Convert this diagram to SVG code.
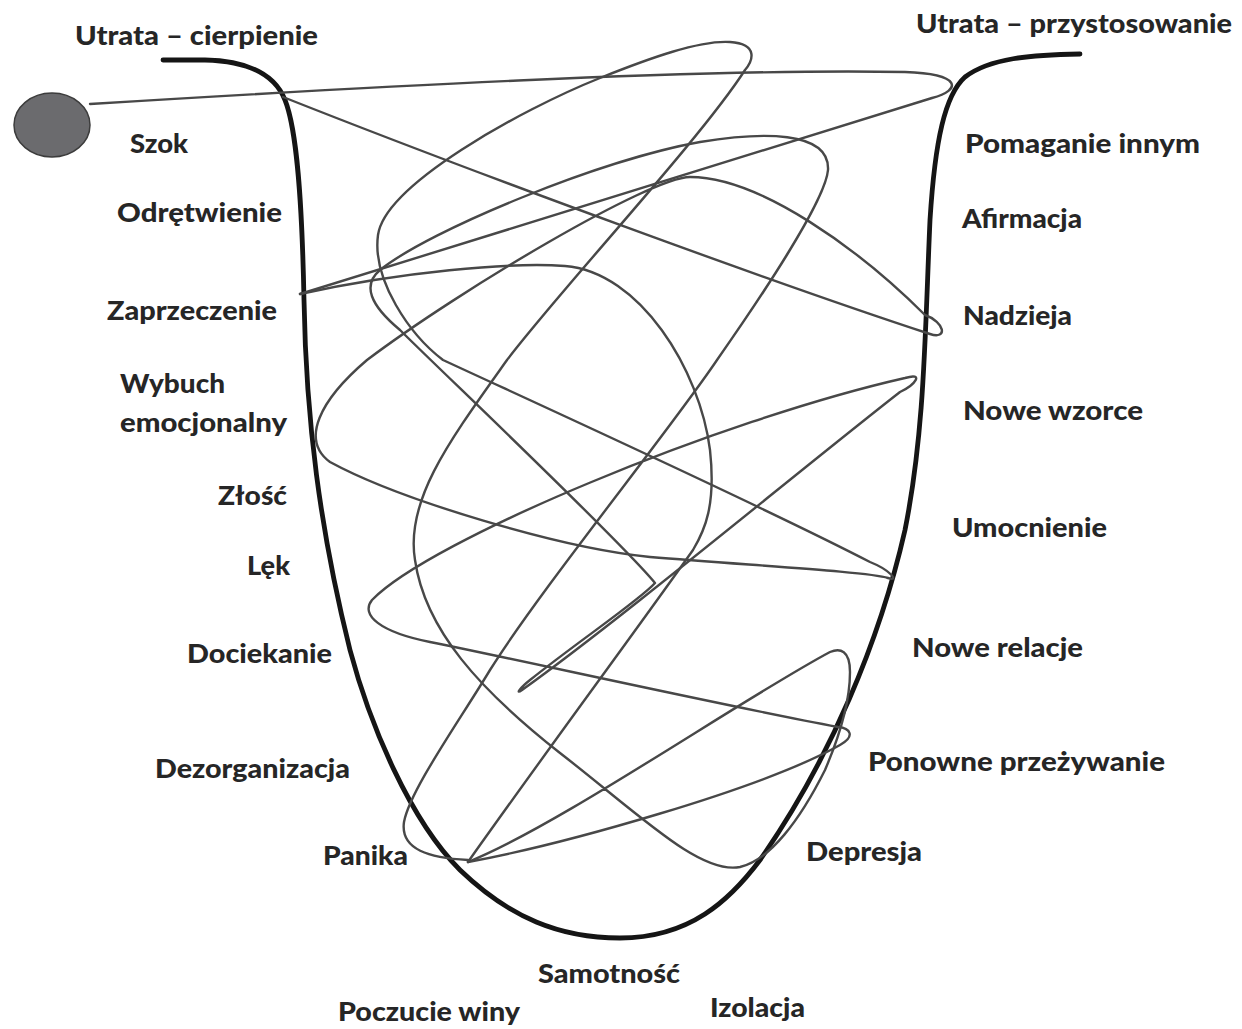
<svg xmlns="http://www.w3.org/2000/svg" width="1242" height="1029" viewBox="0 0 1242 1029">
<style>
.lbl{font-family:Lato,"Open Sans","Liberation Sans",sans-serif;font-weight:900;font-size:26px;fill:#262626}
.u{fill:none;stroke:#151515;stroke-width:4.8;stroke-linecap:round;stroke-linejoin:round}
.s{fill:none;stroke:#484848;stroke-width:2.4;stroke-linecap:round;stroke-linejoin:round}
</style>
<rect width="1242" height="1029" fill="#ffffff"/>
<g id="u-curve">
<path class="u" d="M163,60 L205,60 C250,61 275,75 285,100 C297,130 302,200 304,300 C306,420 320,530 350,650 C370,725 410,820 460,870 C510,918 560,938 620,938 C690,938 730,900 760,860 C830,760 880,640 905,530 C925,430 925,330 930,220 C935,140 945,95 965,77 C990,58 1030,55 1080,54"/>
</g>
<g id="connectors">
<path class="s" d="M90,104 C350,88 700,68 905,72 C962,74 962,90 932,98 C850,122 620,195 300,294"/>
<path class="s" d="M300,294 C400,272 510,262 565,266 C640,272 700,370 710,450 C716,505 705,530 693,550 C640,625 540,760 468,862"/>
<path class="s" d="M283,97 C480,175 780,285 930,334 C948,340 945,322 925,315 C860,250 760,177 690,177 C650,177 460,290 367,360 C320,400 300,440 330,462 C400,500 560,548 650,557 C760,566 870,572 888,578 C900,582 890,570 870,562 C760,505 540,405 443,360 C410,335 372,280 378,235 C385,185 520,110 600,78 C650,58 700,40 730,42 C760,44 752,62 745,70 C700,140 560,290 507,360 C450,440 405,500 415,560 C425,630 480,690 560,753 C640,815 700,875 740,867 C770,860 800,820 825,770 C840,735 850,700 850,672 C850,650 840,648 830,652 C740,700 560,825 468,862"/>
<path class="s" d="M468,862 C560,845 760,790 840,745 C856,736 850,728 838,727 C720,705 520,660 430,642 C380,632 360,615 372,600 C430,540 720,420 905,378 C925,372 915,385 900,392 C800,470 620,620 522,690 C515,695 520,688 530,680 C580,640 640,600 655,583 C620,540 440,370 400,330 C370,305 362,285 380,270 C430,230 600,160 700,142 C760,132 830,130 828,170 C826,195 780,270 717,360 C670,430 540,590 490,670 C460,720 410,790 404,822 C400,850 430,858 468,860"/>
</g>
<g id="start">
<ellipse cx="52" cy="125" rx="38" ry="32" fill="#6b6b6e" stroke="#3c3c3c" stroke-width="1.5"/>
</g>
<g id="labels">
<text id="t-utrata-c" class="lbl" x="75" y="45" textLength="243" lengthAdjust="spacingAndGlyphs">Utrata – cierpienie</text>
<text id="t-utrata-p" class="lbl" x="916" y="33" textLength="316" lengthAdjust="spacingAndGlyphs">Utrata – przystosowanie</text>
<text id="t-szok" class="lbl" x="130" y="153" textLength="58" lengthAdjust="spacingAndGlyphs">Szok</text>
<text id="t-odr" class="lbl" x="117" y="222" textLength="165" lengthAdjust="spacingAndGlyphs">Odrętwienie</text>
<text id="t-zap" class="lbl" x="107" y="320" textLength="170" lengthAdjust="spacingAndGlyphs">Zaprzeczenie</text>
<text id="t-wyb1" class="lbl" x="120" y="393" textLength="105" lengthAdjust="spacingAndGlyphs">Wybuch</text>
<text id="t-wyb2" class="lbl" x="120" y="432" textLength="167" lengthAdjust="spacingAndGlyphs">emocjonalny</text>
<text id="t-zlosc" class="lbl" x="218" y="505" textLength="69" lengthAdjust="spacingAndGlyphs">Złość</text>
<text id="t-lek" class="lbl" x="247" y="575" textLength="43" lengthAdjust="spacingAndGlyphs">Lęk</text>
<text id="t-doc" class="lbl" x="187" y="663" textLength="145" lengthAdjust="spacingAndGlyphs">Dociekanie</text>
<text id="t-dez" class="lbl" x="155" y="778" textLength="195" lengthAdjust="spacingAndGlyphs">Dezorganizacja</text>
<text id="t-pan" class="lbl" x="323" y="865" textLength="85" lengthAdjust="spacingAndGlyphs">Panika</text>
<text id="t-sam" class="lbl" x="538" y="983" textLength="142" lengthAdjust="spacingAndGlyphs">Samotność</text>
<text id="t-pocz" class="lbl" x="338" y="1021" textLength="182" lengthAdjust="spacingAndGlyphs">Poczucie winy</text>
<text id="t-izo" class="lbl" x="710" y="1017" textLength="95" lengthAdjust="spacingAndGlyphs">Izolacja</text>
<text id="t-dep" class="lbl" x="806" y="861" textLength="116" lengthAdjust="spacingAndGlyphs">Depresja</text>
<text id="t-pom" class="lbl" x="965" y="153" textLength="235" lengthAdjust="spacingAndGlyphs">Pomaganie innym</text>
<text id="t-afi" class="lbl" x="962" y="228" textLength="120" lengthAdjust="spacingAndGlyphs">Afirmacja</text>
<text id="t-nad" class="lbl" x="963" y="325" textLength="109" lengthAdjust="spacingAndGlyphs">Nadzieja</text>
<text id="t-nww" class="lbl" x="963" y="420" textLength="180" lengthAdjust="spacingAndGlyphs">Nowe wzorce</text>
<text id="t-umo" class="lbl" x="952" y="537" textLength="155" lengthAdjust="spacingAndGlyphs">Umocnienie</text>
<text id="t-nwr" class="lbl" x="912" y="657" textLength="171" lengthAdjust="spacingAndGlyphs">Nowe relacje</text>
<text id="t-pon" class="lbl" x="868" y="771" textLength="297" lengthAdjust="spacingAndGlyphs">Ponowne przeżywanie</text>
</g>
</svg>
